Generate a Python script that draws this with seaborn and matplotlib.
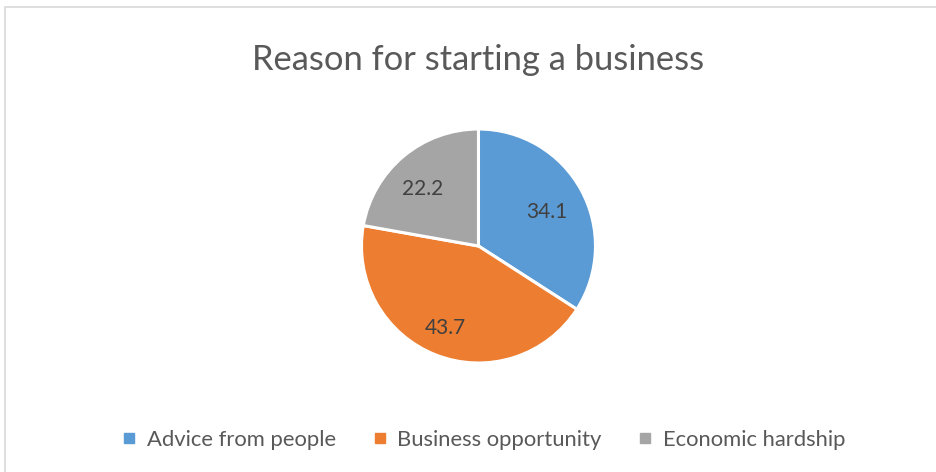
import matplotlib
matplotlib.use("Agg")
import matplotlib.pyplot as plt
from matplotlib.lines import Line2D
from matplotlib.patches import Rectangle
import numpy as np
import seaborn as sns

# Survey shares (percent)
categories = ["Advice from people", "Business opportunity", "Economic hardship"]
shares = [34.1, 43.7, 22.2]
slice_colors = ["#5B9BD5", "#ED7D31", "#A5A5A5"]
title_text = "Reason for starting a business"

sns.set_theme(style="white")
plt.rcParams["font.family"] = ["Lato", "DejaVu Sans"]

fig = plt.figure(figsize=(9.37, 4.72), dpi=100)
fig.patch.set_facecolor("white")

# light chart-area frame
fig.patches.append(Rectangle((5 / 937, -0.05), 1.2, 1 - 7 / 472 + 0.05,
                             transform=fig.transFigure, fill=False,
                             edgecolor="#D9D9D9", linewidth=1.2))

ax = fig.add_axes([0.3858, 0.2309, 0.2497, 0.4958])
wedges, _ = ax.pie(shares, colors=slice_colors, startangle=90, counterclock=False,
                   radius=1.0, wedgeprops=dict(edgecolor="white", linewidth=2.2))
ax.set_xlim(-1, 1)
ax.set_ylim(-1, 1)
ax.set_aspect("equal")
ax.axis("off")

# value labels inside each slice
for w, v in zip(wedges, shares):
    mid = np.deg2rad((w.theta1 + w.theta2) / 2)
    ax.text(0.7 * np.cos(mid) - 0.03, 0.7 * np.sin(mid) - 0.045, f"{v:.1f}",
            ha="center", va="center", fontsize=15, color="#404040")

fig.text(0.5107, 1 - 60 / 472, title_text, ha="center", va="center",
         fontsize=24.8, color="#595959")

handles = [Line2D([0], [0], marker="s", linestyle="none", markersize=6.5,
                  markerfacecolor=c, markeredgecolor=c) for c in slice_colors]
fig.legend(handles, categories, loc="center", bbox_to_anchor=(0.516, 1 - 440 / 472),
           ncol=3, frameon=False, fontsize=15.8, labelcolor="#595959",
           handlelength=0.7, handletextpad=0.45, columnspacing=1.65)

fig.savefig("out.png", dpi=100, facecolor="white")
